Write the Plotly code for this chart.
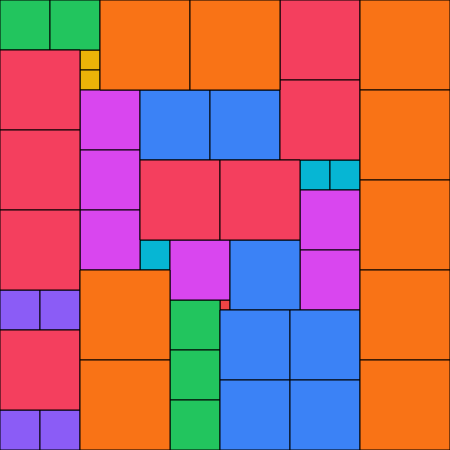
import plotly.graph_objects as go

# Square sizes (side length in units) and their top-left corners (units)
sizes = [1,
         2, 2,
         3, 3, 3,
         4, 4, 4, 4,
         5, 5, 5, 5, 5,
         6, 6, 6, 6, 6, 6,
         7, 7, 7, 7, 7, 7, 7,
         8, 8, 8, 8, 8, 8, 8, 8,
         9, 9, 9, 9, 9, 9, 9, 9, 9]
x0 = [22,
      8, 8,
      30, 33, 14,
      0, 4, 0, 4,
      0, 5, 17, 17, 17,
      8, 8, 8, 30, 30, 17,
      14, 21, 23, 22, 29, 22, 29,
      28, 28, 0, 0, 0, 0, 14, 22,
      10, 19, 36, 36, 36, 36, 36, 8, 8]
y0 = [30,
      5, 7,
      16, 16, 24,
      29, 29, 41, 41,
      0, 0, 30, 35, 40,
      9, 15, 21, 19, 25, 24,
      9, 9, 24, 31, 31, 38, 38,
      0, 8, 5, 13, 21, 33, 16, 16,
      0, 0, 0, 9, 18, 27, 36, 27, 36]

colors = {1: "#ef4444", 2: "#eab308", 3: "#06b6d4", 4: "#8b5cf6", 5: "#22c55e",
          6: "#d946ef", 7: "#3b82f6", 8: "#f43f5e", 9: "#f97316"}

fig = go.Figure()
shapes = []
for s, x, y in zip(sizes, x0, y0):
    shapes.append(dict(type="rect", xref="x", yref="y",
                       x0=x, x1=x + s, y0=y, y1=y + s,
                       fillcolor=colors[s], line=dict(color="black", width=1),
                       layer="above"))
# invisible trace to establish axes
fig.add_trace(go.Scatter(x=[0, 45], y=[0, 45], mode="markers",
                         marker=dict(opacity=0), hoverinfo="skip", showlegend=False))
fig.update_layout(shapes=shapes, width=450, height=450,
                  margin=dict(l=0, r=0, t=0, b=0),
                  paper_bgcolor="white", plot_bgcolor="white",
                  xaxis=dict(range=[0, 45], visible=False, fixedrange=True),
                  yaxis=dict(range=[45, 0], visible=False, fixedrange=True),
                  showlegend=False)
fig.write_html("out.html", config={"displayModeBar": False},
               post_script="document.body.style.margin='0';document.body.style.overflow='hidden';")
